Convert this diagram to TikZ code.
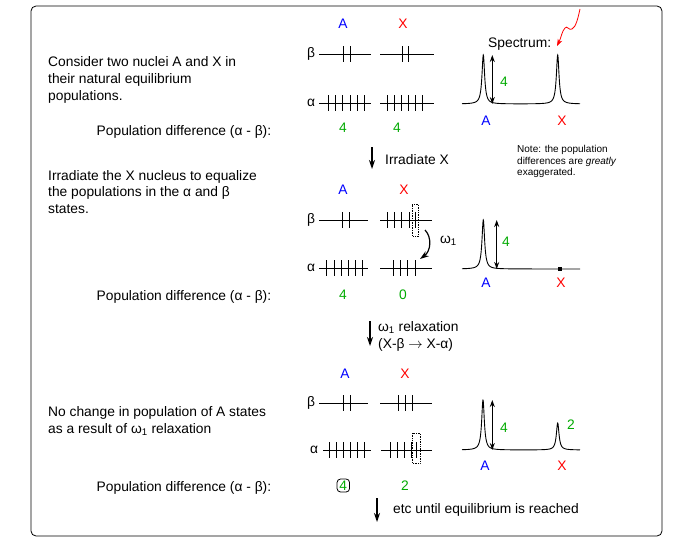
\documentclass[tikz,border=0pt]{standalone}
\usepackage{fontspec}
\setmainfont{Liberation Sans}
\usetikzlibrary{arrows.meta}
\definecolor{ablue}{RGB}{0,0,255}
\definecolor{xred}{RGB}{255,0,0}
\definecolor{ngreen}{RGB}{0,170,0}
\newcommand\enlevel[4]{%
  \draw[lvl] (#2,#1) -- (#3,#1);
  \foreach \t in {#4} {\draw[lvl] (\t,{#1-8}) -- (\t,{#1+8});}}
\begin{document}
\begin{tikzpicture}[x=1pt,y=-1pt,
  txt/.style={font=\fontsize{13.8}{17}\selectfont, inner sep=0, anchor=base west},
  small/.style={font=\fontsize{10}{12}\selectfont, inner sep=0, anchor=base west},
  ctxt/.style={font=\fontsize{13.8}{17}\selectfont, inner sep=0},
  alab/.style={ctxt, text=ablue},
  xlab/.style={ctxt, text=xred},
  num/.style={ctxt, text=ngreen},
  lvl/.style={line width=0.9pt},
  dbox/.style={densely dotted, line width=0.7pt},
  dar/.style={line width=1pt, {Stealth[length=7pt,width=5pt]}-{Stealth[length=7pt,width=5pt]}},
  dnar/.style={line width=1.2pt, -{Stealth[length=9pt,width=6pt]}},
  spec/.style={line width=0.9pt},
]
\useasboundingbox (0,0) rectangle (686,541);
\draw[line width=0.8pt, rounded corners=5pt] (31,6) rectangle (662,536);

% ---------------- Section 1 ----------------
\node[txt] (t1a) at (48,66) {Consider two nuclei A and X in};
\node[txt] (t1b) at (48,83) {their natural equilibrium};
\node[txt] (t1c) at (48,100) {populations.};
\node[txt] (pd1) at (96.5,135) {Population difference (α - β):};

\node[alab] (a1) at (343,24) {A};
\node[xlab] (x1) at (403,24) {X};
\node[ctxt] (b1) at (311,54) {β};
\node[ctxt] (al1) at (311,103) {α};
\enlevel{54}{319}{371}{343.3,350}
\enlevel{54}{380}{434}{402.7,408.7}
\enlevel{103}{319}{371}{328.3,335.7,342.7,350,357.3,364}
\enlevel{103}{380}{434}{387.3,394,401,408,415.3,422.7}
\node[num] (n1a) at (343,128) {4};
\node[num] (n1b) at (397,128) {4};

% spectrum 1
\node[txt] (spl) at (488,47) {Spectrum:};
\coordinate (sq1) at (580,9);
\coordinate (sq2) at (557,46);
\draw[xred, line width=0.8pt, -{Stealth[length=7pt,width=5pt]}] (sq1) .. controls (578,18) and (576,27) .. (572,29) .. controls (569,31) and (567,25) .. (565,28) .. controls (562,31) and (561,38) .. (sq2);
\draw[spec] plot[domain=462:580, samples=700] (\x,{104 - 49*2.56/((\x-483.3)^2+2.56) - 49*2.56/((\x-557.7)^2+2.56)});
\coordinate (s1t) at (492.3,55);
\coordinate (s1b) at (492.3,104);
\draw[dar] (s1t) -- (s1b);
\node[num] (s1n) at (504,82) {4};
\node[alab] (s1a) at (486,121) {A};
\node[xlab] (s1x) at (562,121) {X};

\node[small] (nt1) at (517,152) {Note: the population};
\node[small] (nt2) at (517,164) {differences are \textit{greatly}};
\node[small] (nt3) at (517,175.5) {exaggerated.};

% arrow irradiate
\coordinate (ir1) at (372,147);
\coordinate (ir2) at (372,169);
\draw[dnar] (ir1) -- (ir2);
\node[txt] (irt) at (385,164) {Irradiate X};

% ---------------- Section 2 ----------------
\node[txt] (t2a) at (48,180) {Irradiate the X nucleus to equalize};
\node[txt] (t2b) at (48,196.5) {the populations in the α and β};
\node[txt] (t2c) at (48,213) {states.};
\node[txt] (pd2) at (96.5,300) {Population difference (α - β):};

\node[alab] (a2) at (343,190) {A};
\node[xlab] (x2) at (404,190) {X};
\node[ctxt] (b2) at (311,220) {β};
\node[ctxt] (al2) at (311,268) {α};
\enlevel{220}{319}{368}{342.3,349.3}
\enlevel{220}{380}{432}{387.3,394.3,401.7,409,415.3}
\draw[dbox] (412.3,204.5) rectangle (418.5,236);
\enlevel{268}{319}{368}{326.7,334,341.3,348.3,355,362.3}
\enlevel{268}{380}{432}{393.3,400.7,407.3,415}
\coordinate (w1s) at (425,230);
\coordinate (w1e) at (420,259);
\draw[dnar] (w1s) .. controls (432,237) and (431,251) .. (w1e);
\node[ctxt, anchor=west] (w1) at (440,241) {ω\textsubscript{1}};
\node[num] (n2a) at (343,295) {4};
\node[num] (n2b) at (403,295) {0};

% spectrum 2
\draw[spec] plot[domain=462:580, samples=700] (\x,{269 - 49*2.56/((\x-483.3)^2+2.56)});
\fill (558,267) rectangle (562,271);
\coordinate (s2t) at (496.7,220);
\coordinate (s2b) at (496.7,269);
\draw[dar] (s2t) -- (s2b);
\node[num] (s2n) at (506,242) {4};
\node[alab] (s2a) at (486,283) {A};
\node[xlab] (s2x) at (561,283) {X};

% relaxation arrow
\coordinate (rl1) at (370,321);
\coordinate (rl2) at (370,346);
\draw[dnar] (rl1) -- (rl2);
\node[txt] (rlt1) at (378,331) {ω\textsubscript{1} relaxation};
\node[txt] (rlt2) at (378,348) {(X-β $\rightarrow$ X-α)};

% ---------------- Section 3 ----------------
\node[txt] (t3a) at (48,416) {No change in population of A states};
\node[txt] (t3b) at (48,433) {as a result of ω\textsubscript{1} relaxation};
\node[txt] (pd3) at (96.5,491) {Population difference (α - β):};

\node[alab] (a3) at (345,374) {A};
\node[xlab] (x3) at (405,374) {X};
\node[ctxt] (b3) at (311,403) {β};
\node[ctxt] (al3) at (314,450) {α};
\enlevel{403}{319}{368}{343.3,350.7}
\enlevel{403}{380}{432}{398.3,405,412.3}
\enlevel{450}{323}{371}{329.3,336,343.3,350,357.3,364}
\enlevel{450}{381}{432}{390.7,397.7,404.3,411,416.7}
\draw[dbox] (412.7,433) rectangle (420,463.3);
\node[num, draw=black, line width=0.8pt, rounded corners=3.5pt, minimum width=12.5pt, minimum height=13pt] (n3a) at (343.3,485.5) {4};
\node[num] (n3b) at (405,485.5) {2};

% spectrum 3
\draw[spec] plot[domain=462:580, samples=700] (\x,{450 - 50*2.56/((\x-483)^2+2.56) - 27*2.56/((\x-557.7)^2+2.56)});
\coordinate (s3t) at (492.3,400);
\coordinate (s3b) at (492.3,450);
\draw[dar] (s3t) -- (s3b);
\node[num] (s3n) at (504,428) {4};
\node[num] (s3n2) at (571,425) {2};
\node[alab] (s3a) at (485,466) {A};
\node[xlab] (s3x) at (562,466) {X};

% final arrow
\coordinate (f1) at (377,498);
\coordinate (f2) at (377,522);
\draw[dnar] (f1) -- (f2);
\node[txt] (ft) at (393,513) {etc until equilibrium is reached};
\end{tikzpicture}
\end{document}
